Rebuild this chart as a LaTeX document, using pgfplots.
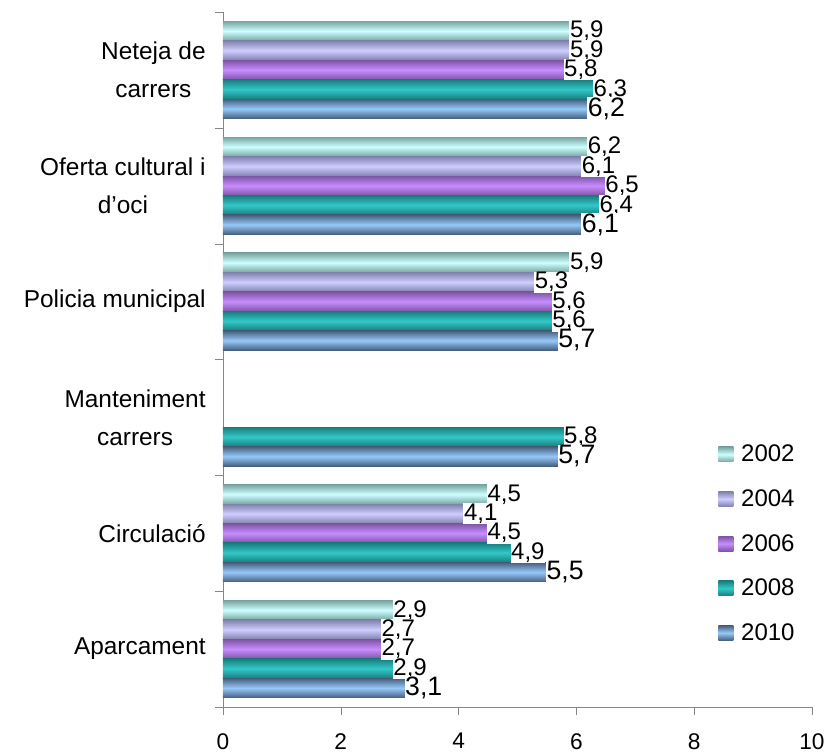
\documentclass[border=0pt]{standalone}
\usepackage{pgfplots}
\pgfplotsset{compat=1.18}
\usepackage{fontspec}
\setmainfont{Liberation Sans}

\definecolor{d02}{RGB}{120,165,160}\definecolor{l02}{RGB}{205,255,255}
\definecolor{d04}{RGB}{130,130,175}\definecolor{l04}{RGB}{205,205,255}
\definecolor{d06}{RGB}{125,85,165}\definecolor{l06}{RGB}{200,140,255}
\definecolor{d08}{RGB}{25,125,125}\definecolor{l08}{RGB}{50,200,200}
\definecolor{d10}{RGB}{70,95,125}\definecolor{l10}{RGB}{150,200,250}
\definecolor{axisgray}{RGB}{134,134,134}

\pgfplotsset{
    s02/.style={draw=none, top color=d02, bottom color=d02, middle color=l02, bar shift=0.336},
    s04/.style={draw=none, top color=d04, bottom color=d04, middle color=l04, bar shift=0.168},
    s06/.style={draw=none, top color=d06, bottom color=d06, middle color=l06, bar shift=0},
    s08/.style={draw=none, top color=d08, bottom color=d08, middle color=l08, bar shift=-0.168},
    s10/.style={draw=none, top color=d10, bottom color=d10, middle color=l10, bar shift=-0.336,
        every node near coord/.append style={font=\fontsize{20pt}{22pt}\selectfont}},
}
% one bar per \addplot, so that each bar gets its own shading
\newcommand{\hb}[3]{\addplot[forget plot, s#1] coordinates {(#2,#3)};}

\begin{document}
\begin{tikzpicture}
\begin{axis}[
    scale only axis,
    width=441.75pt, height=521.25pt,
    xbar, bar width=0.168,
    xmin=0, xmax=10, ymin=-0.5, ymax=5.5,
    enlargelimits=false,
    axis lines*=left,
    axis line style={draw=axisgray, -},
    tick style={draw=axisgray},
    tick align=outside,
    major tick length=6pt,
    xtick={0,2,...,10},
    ytick={-0.5,0.5,...,5.5},
    yticklabel=\empty,
    extra y ticks={0,1,2,3,4,5},
    extra y tick labels={Aparcament, Circulació, {Manteniment\\carrers}, Policia municipal, {Oferta cultural i\\d'oci}, {Neteja de\\carrers}},
    extra y tick style={major tick length=0pt, tick label style={align=center, font=\fontsize{18.3pt}{28.5pt}\selectfont, xshift=-9.5pt}},
    xticklabel style={font=\fontsize{17pt}{19pt}\selectfont, inner sep=0pt, yshift=-13.5pt},
    /pgf/number format/assume math mode=true,
    point meta=x,
    nodes near coords={\pgfmathprintnumber[fixed,fixed zerofill,precision=1,use comma,assume math mode=true]{\pgfplotspointmeta}},
    every node near coord/.append style={anchor=west, fill=white, inner sep=0.5pt, xshift=-1pt, font=\fontsize{18pt}{20pt}\selectfont},
    legend image code/.code={\path[#1, draw=none] (0pt,-5.6pt) rectangle (11.2pt,5.6pt); \path (15pt,0pt);},
    legend cell align=left,
    legend style={at={(0.834,0.385)}, anchor=north west, draw=none, fill=none,
        font=\fontsize{18pt}{20pt}\selectfont, row sep=15.4pt},
]
% Neteja de carrers
\hb{02}{5.9}{5} \hb{04}{5.9}{5} \hb{06}{5.8}{5} \hb{08}{6.3}{5} \hb{10}{6.2}{5}
% Oferta cultural i d'oci
\hb{02}{6.2}{4} \hb{04}{6.1}{4} \hb{06}{6.5}{4} \hb{08}{6.4}{4} \hb{10}{6.1}{4}
% Policia municipal
\hb{02}{5.9}{3} \hb{04}{5.3}{3} \hb{06}{5.6}{3} \hb{08}{5.6}{3} \hb{10}{5.7}{3}
% Manteniment carrers
\hb{08}{5.8}{2} \hb{10}{5.7}{2}
% Circulació
\hb{02}{4.5}{1} \hb{04}{4.1}{1} \hb{06}{4.5}{1} \hb{08}{4.9}{1} \hb{10}{5.5}{1}
% Aparcament
\hb{02}{2.9}{0} \hb{04}{2.7}{0} \hb{06}{2.7}{0} \hb{08}{2.9}{0} \hb{10}{3.1}{0}
\addlegendimage{s02}\addlegendentry{2002}
\addlegendimage{s04}\addlegendentry{2004}
\addlegendimage{s06}\addlegendentry{2006}
\addlegendimage{s08}\addlegendentry{2008}
\addlegendimage{s10}\addlegendentry{2010}
\end{axis}
\pgfresetboundingbox
\path (-167.25pt,-34.5pt) rectangle (456.75pt,530.25pt);
\end{tikzpicture}
\end{document}
